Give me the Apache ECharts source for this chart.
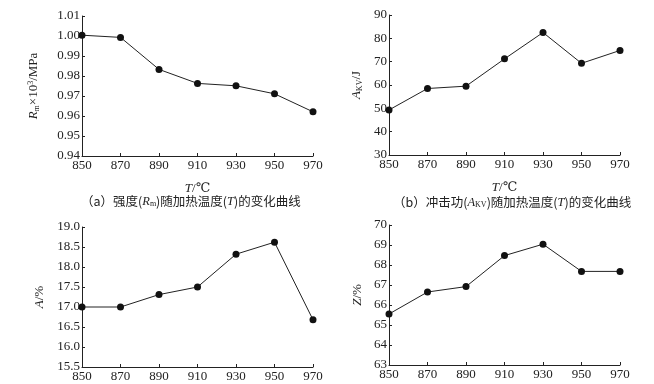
<!DOCTYPE html>
<html><head><meta charset="utf-8">
<script src="https://cdn.jsdelivr.net/npm/echarts@6/dist/echarts.min.js"></script>
<style>html,body{margin:0;padding:0;background:#fff}#c{width:654px;height:384px}</style>
</head><body><div id="c"></div>
<script>
const temps = ['850','870','890','910','930','950','970'];
const strengthRm = [1.0004, 0.9993, 0.9833, 0.9763, 0.9751, 0.9711, 0.9621];
const impactAkv = [49.3, 58.5, 59.5, 71.2, 82.5, 69.3, 74.8];
const elongA = [17.0, 17.0, 17.31, 17.5, 18.32, 18.62, 16.68];
const reductionZ = [65.55, 66.65, 66.92, 68.47, 69.04, 67.68, 67.68];

const serif = '"Liberation Serif","DejaVu Serif",serif';
const cjk = '"Noto Sans CJK SC","Liberation Serif",serif';
const ink = '#222';
const fs = 13;

const grids = [
  {left: 82, top: 16, width: 231, height: 140},
  {left: 389, top: 15, width: 231, height: 140},
  {left: 82, top: 227, width: 231, height: 140},
  {left: 389, top: 225, width: 231, height: 140}
];
const yCfg = [
  {min: 0.94, max: 1.01, interval: 0.01, dec: 2, name: '{i|R}{sub|m}×10{sup|3}/MPa', gap: 41},
  {min: 30, max: 90, interval: 10, dec: 0, name: '{i|A}{sub|KV}/J', gap: 25},
  {min: 15.5, max: 19.0, interval: 0.5, dec: 1, name: '{i|A}/%', gap: 36},
  {min: 63, max: 70, interval: 1, dec: 0, name: '{i|Z}/%', gap: 25}
];
const seriesData = [strengthRm, impactAkv, elongA, reductionZ];
const rich = {
  i: {fontStyle: 'italic', fontFamily: serif, fontSize: fs, color: ink},
  sub: {fontFamily: serif, fontSize: 8, color: ink, verticalAlign: 'bottom', padding: [6,0,0,0]},
  sup: {fontFamily: serif, fontSize: 8, color: ink, verticalAlign: 'top', padding: [0,0,6,0]}
};

const option = {
  animation: false,
  backgroundColor: '#fff',
  title: [
    {text: '（a）强度({n|R}{s|m})随加热温度({n|T})的变化曲线', left: 76, top: 190},
    {text: '（b）冲击功({n|A}{s|KV})随加热温度({n|T})的变化曲线', left: 388, top: 191}
  ].map(t => Object.assign(t, {textStyle: {fontFamily: cjk, fontSize: 12.5, fontWeight: 'normal', color: ink,
      rich: {n: {fontFamily: serif, fontStyle: 'italic', fontSize: 12.5, color: ink},
             s: {fontFamily: serif, fontSize: 8, color: ink, verticalAlign: 'bottom', padding: [5,0,0,0]}}}})),
  grid: grids,
  xAxis: grids.map((g, i) => ({
    type: 'category', gridIndex: i, data: temps, boundaryGap: false,
    axisLine: {lineStyle: {color: ink, width: 1}},
    axisTick: {inside: true, length: 3, lineStyle: {color: ink}},
    axisLabel: {fontFamily: serif, fontSize: fs, color: ink, margin: 3},
    name: i < 2 ? '{i|T}/℃' : '', nameLocation: 'middle', nameGap: 26,
    nameTextStyle: {fontFamily: serif, fontSize: fs, color: ink, rich: rich},
    splitLine: {show: false}
  })),
  yAxis: grids.map((g, i) => ({
    type: 'value', gridIndex: i, min: yCfg[i].min, max: yCfg[i].max, interval: yCfg[i].interval,
    axisLine: {show: true, lineStyle: {color: ink, width: 1}},
    axisTick: {show: true, inside: true, length: 3, lineStyle: {color: ink}},
    axisLabel: {fontFamily: serif, fontSize: fs, color: ink, margin: 2,
      formatter: v => v.toFixed(yCfg[i].dec)},
    splitLine: {show: false},
    name: yCfg[i].name, nameLocation: 'middle', nameGap: yCfg[i].gap, nameRotate: 90,
    nameTextStyle: {fontFamily: serif, fontSize: fs, color: ink, rich: rich}
  })),
  series: seriesData.map((d, i) => ({
    type: 'line', xAxisIndex: i, yAxisIndex: i, data: d,
    symbol: 'circle', symbolSize: 7,
    lineStyle: {color: ink, width: 1}, itemStyle: {color: '#111'},
    clip: false
  }))
};
echarts.init(document.getElementById('c')).setOption(option);
</script></body></html>
